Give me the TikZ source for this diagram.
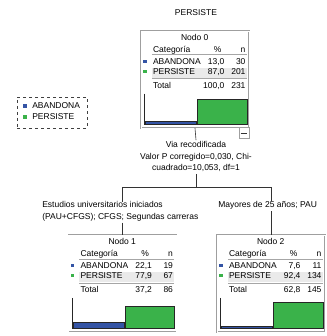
\documentclass[tikz,border=0pt]{standalone}
\usepackage{fontspec}
\setmainfont{Liberation Sans}

\definecolor{abandona}{RGB}{52,84,165}
\definecolor{persiste}{RGB}{58,178,74}
\definecolor{rowgray}{RGB}{234,234,234}

\tikzset{every picture/.style={line width=0.6pt}}
\tikzset{
  txt/.style={font=\fontsize{8.5}{11.5}\selectfont, inner sep=0pt, text height=6pt, text depth=1.7pt},
  lbl/.style={font=\fontsize{8.5}{11.5}\selectfont, inner sep=0pt},
  nodebox/.style={draw=gray!75, double=white, double distance=0.8pt, line width=0.5pt,
    minimum width=108, minimum height=97, inner sep=0pt},
  foldbox/.style={draw=gray!75, fill=white, minimum width=10, minimum height=11, inner sep=0pt},
  legendbox/.style={draw=black!75, dashed, minimum width=70, minimum height=31, inner sep=0pt},
  sepline/.style={draw=gray!70, line width=0.5pt},
  chartaxis/.style={draw=black!85, line width=0.6pt},
  barbox/.style={draw=black!85, line width=0.6pt},
  link/.style={draw=black!80, line width=0.6pt}
}

% contents of one tree node: name, number, %A, nA, %P, nP, %T, nT, %A (numeric)
\newcommand{\nodetable}[9]{%
  \begin{scope}[shift={(#1.north west)}]
    \node[txt] at (54,8) {Nodo #2};
    \node[txt, anchor=west] at (12,20) {Categoría};
    \node[txt] at (77,20) {\%};
    \node[txt, anchor=east] at (105,20) {n};
    \draw[sepline] (11,24) -- (106,24);
    \fill[abandona] (2.5,29) rectangle (6,32.5);
    \node[txt, anchor=west] at (12,32) {ABANDONA};
    \node[txt, anchor=east] at (84,32) {#3};
    \node[txt, anchor=east] at (105,32) {#4};
    \fill[rowgray] (11,37) rectangle (106,47);
    \fill[persiste] (2.5,39) rectangle (6,42.5);
    \node[txt, anchor=west] at (12,42) {PERSISTE};
    \node[txt, anchor=east] at (84,42) {#5};
    \node[txt, anchor=east] at (105,42) {#6};
    \draw[sepline] (11,48) -- (106,48);
    \node[txt, anchor=west] at (12,56) {Total};
    \node[txt, anchor=east] at (84,56) {#7};
    \node[txt, anchor=east] at (105,56) {#8};
    \draw[chartaxis] (4,63) -- (4,94);
    \draw[barbox, fill=abandona] (5,94) rectangle (56,{94-#9*0.29});
    \draw[barbox, fill=persiste] (57,94) rectangle (106.5,{94-(100-#9)*0.29});
  \end{scope}}

\begin{document}
\begin{tikzpicture}[x=1pt,y=1pt,yscale=-1,xscale=1]
\useasboundingbox (0,0) rectangle (326,336);

% Title
\node[lbl] (title) at (196,13) {PERSISTE};

% Legend
\node[legendbox] (legend) at (52,112.5) {};
\fill[abandona] (23,104) rectangle (27,108);
\node[txt, anchor=west] (legA) at (32,106.5) {ABANDONA};
\fill[persiste] (23,115) rectangle (27,119);
\node[txt, anchor=west] (legP) at (32,117.5) {PERSISTE};

% Tree nodes
\node[nodebox] (n0) at (195,79.5) {};
\node[nodebox] (n1) at (122.5,283.5) {};
\node[nodebox] (n2) at (271,283.5) {};
\nodetable{n0}{0}{13,0}{30}{87,0}{201}{100,0}{231}{13.0}
\nodetable{n1}{1}{22,1}{19}{77,9}{67}{37,2}{86}{22.1}
\nodetable{n2}{2}{7,6}{11}{92,4}{134}{62,8}{145}{7.6}

% collapse box
\node[foldbox, anchor=north east] (fold) at ([yshift=-1]n0.south east) {};
\draw[black!80] ([xshift=2]fold.west) -- ([xshift=-2]fold.east);

% Split labels
\node[lbl, align=center] (via) at (196,156.5) {Via recodificada\\Valor P corregido=0,030, Chi-\\cuadrado=10,053, df=1};
\node[lbl, align=left, anchor=north west] (lab1) at (42,201.5) {Estudios universitarios iniciados\\(PAU+CFGS); CFGS; Segundas carreras};
\node[lbl, anchor=west] (lab2) at (218,205.5) {Mayores de 25 años; PAU};
\coordinate (fork) at (196,187);

% Connectors
\draw[link] (n0.south) -- ([yshift=-1]via.north);
\draw[link] ([yshift=2]via.south) -- (fork);
\draw[link] (n1.north |- lab1.north) -- (n1.north |- fork) -- (n2.north |- fork) -- (n2.north |- lab2.north);
\draw[link] ([yshift=1]n1.north |- lab1.south) -- (n1.north);
\draw[link] ([yshift=1.5]n2.north |- lab2.south) -- (n2.north);
\end{tikzpicture}
\end{document}
